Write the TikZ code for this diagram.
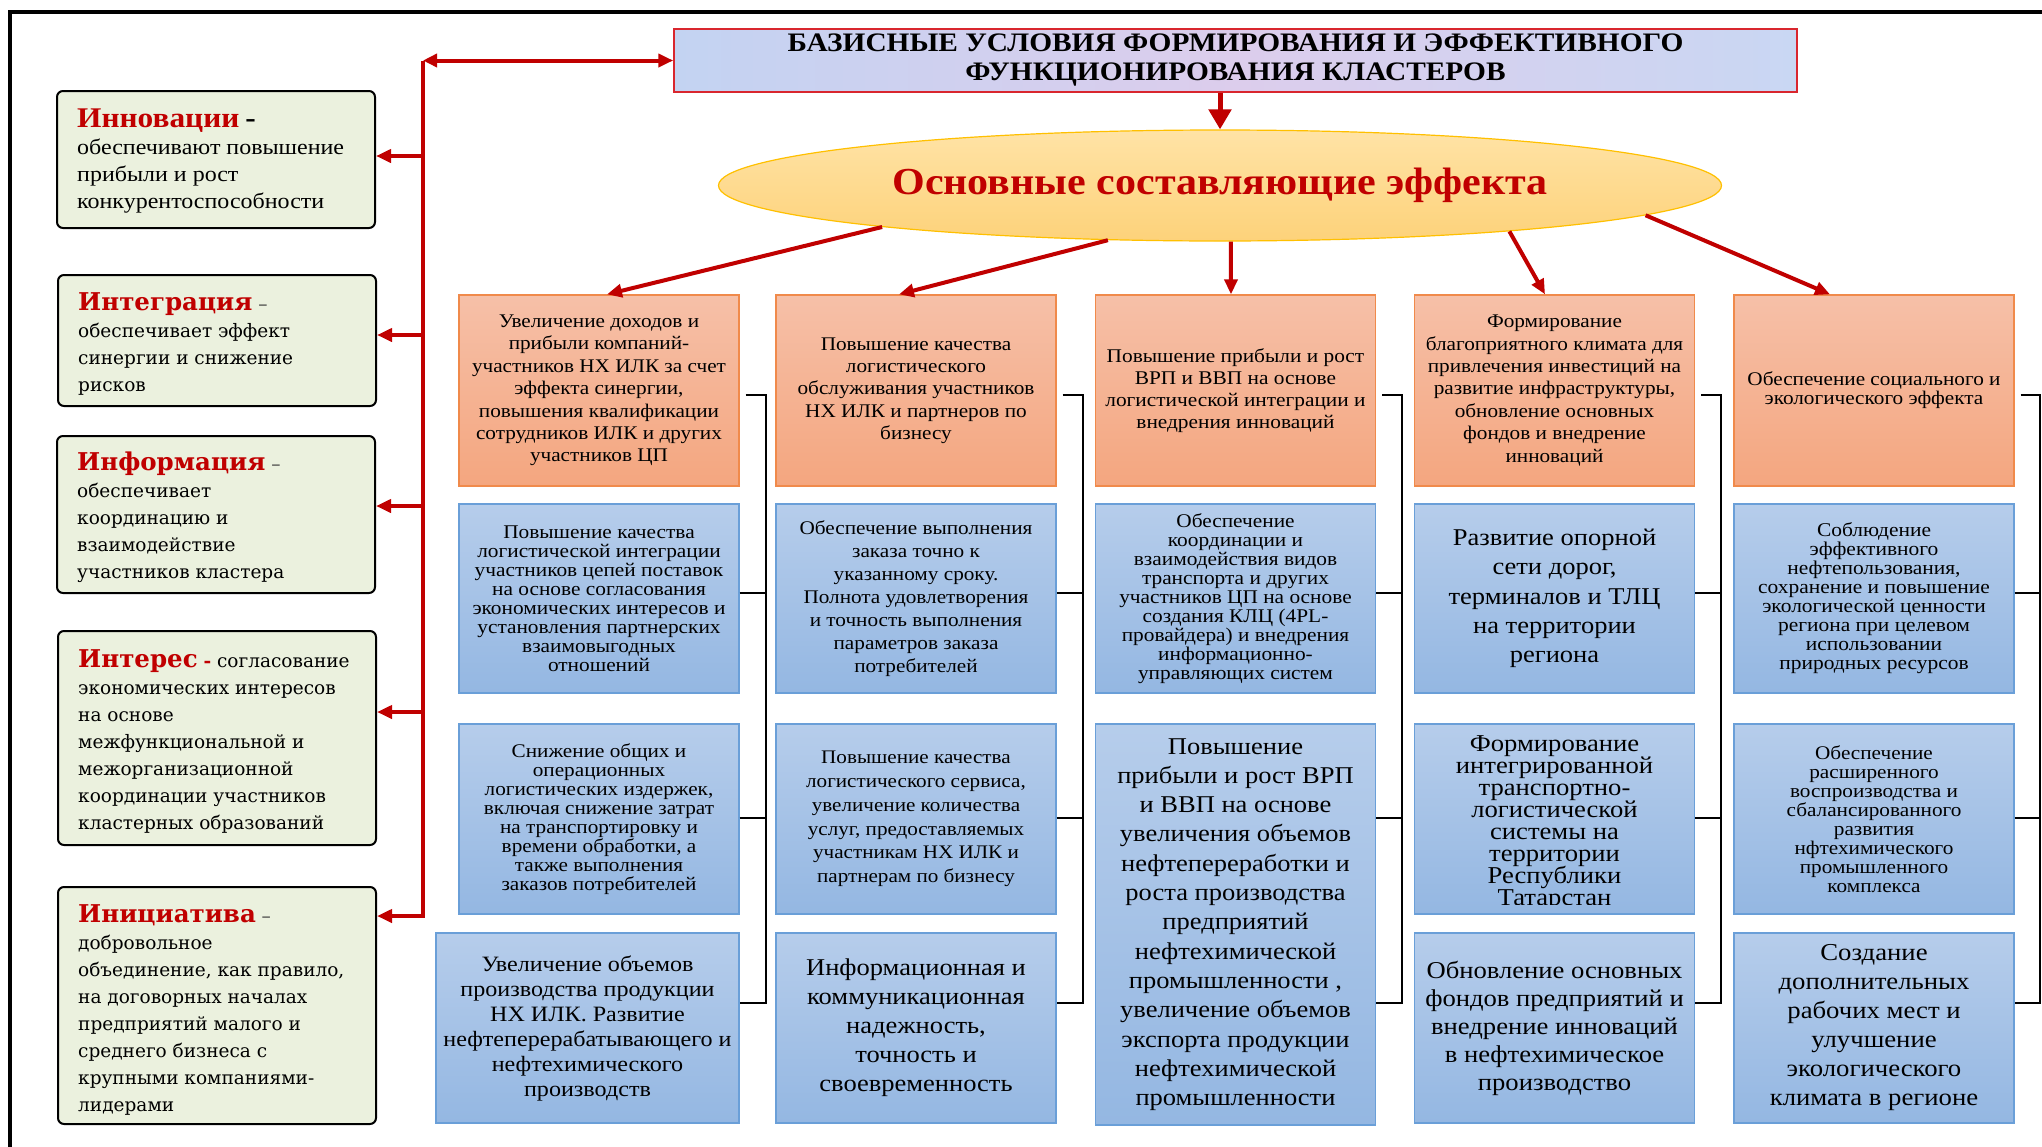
\documentclass[tikz,border=0pt]{standalone}
\usepackage{fontspec}
\setmainfont[FakeStretch=1.1]{Liberation Serif}
\newfontfamily\dvs{DejaVu Serif}
\usetikzlibrary{arrows.meta,calc,shapes.geometric}
\definecolor{rd}{HTML}{C00000}
\definecolor{tred}{HTML}{D9262E}
\definecolor{otop}{HTML}{F6C0A8}
\definecolor{obot}{HTML}{F4A67F}
\definecolor{obd}{HTML}{F08A4B}
\definecolor{btop}{HTML}{B6CDEB}
\definecolor{bbot}{HTML}{94B7E2}
\definecolor{bbd}{HTML}{6A9FD8}
\definecolor{gfill}{HTML}{EBF1DE}
\definecolor{etop}{HTML}{FFE3A6}
\definecolor{ebot}{HTML}{FDD27A}
\definecolor{ebd}{HTML}{FFC000}
\definecolor{dashc}{HTML}{404040}
\definecolor{tl}{HTML}{C3D3F2}
\definecolor{tm}{HTML}{DCCDEC}
\definecolor{tr}{HTML}{C9D7F3}
\newcommand{\fz}[2]{\fontsize{#1}{#2}\selectfont\lineskiplimit=-100pt\relax}
\tikzset{
  redarr/.style={draw=rd, line width=4pt, -{Triangle[length=15pt,width=13pt]}},
  redline/.style={draw=rd, line width=4pt},
  bk/.style={draw=black, line width=2pt},
  obox/.style={rectangle, draw=obd, line width=1.3pt, top color=otop, bottom color=obot,
    minimum width=280pt, minimum height=191pt, inner sep=2pt, align=center, text=black},
  bbox/.style={rectangle, draw=bbd, line width=1.3pt, top color=btop, bottom color=bbot,
    minimum width=280pt, minimum height=190pt, inner sep=2pt, align=center, text=black},
  lbox/.style={rectangle, rounded corners=6pt, draw=black, line width=2pt, fill=gfill,
    minimum width=318pt},
  ltxt/.style={anchor=north west, align=left, inner sep=0pt, text=black},
}
\begin{document}
\begin{tikzpicture}[x=1pt,y=-1pt]
\useasboundingbox (0,0) rectangle (2042,1146);
\fill[white] (0,0) rectangle (2042,1146);
% outer frame
\draw[line width=4pt] (10,1150) -- (10,11.5) -- (2050,11.5);

% title
\node[draw=tred, line width=1.5pt, left color=tl, right color=tr, middle color=tm,
  minimum width=1123pt, minimum height=63pt, inner sep=0pt, align=center,
  font=\bfseries\fz{26.7}{29}] (title) at (1235.5,60.5)
  {БАЗИСНЫЕ УСЛОВИЯ ФОРМИРОВАНИЯ И ЭФФЕКТИВНОГО\\ФУНКЦИОНИРОВАНИЯ КЛАСТЕРОВ};

% ellipse
\node[ellipse, draw=ebd, line width=1.2pt, top color=etop, bottom color=ebot,
  minimum width=1003pt, minimum height=111pt, inner sep=0pt, text=rd,
  font=\bfseries\fz{38.2}{40}] (ell) at (1220,185.5) {Основные составляющие эффекта};

\draw[draw=rd, line width=5pt, -{Triangle[length=20pt,width=22pt]}] (ell.north |- title.south) -- (ell.north);

% left boxes
\node[lbox, minimum height=137pt] (L1) at (216,159.5) {};
\node[lbox, minimum height=131pt] (L2) at (217,340.5) {};
\node[lbox, minimum height=157pt] (L3) at (216,514.5) {};
\node[lbox, minimum height=214pt] (L4) at (217,738) {};
\node[lbox, minimum height=237pt] (L5) at (217,1005.5) {};

\node[ltxt, font=\fz{21.8}{27}] (L1t) at (77,109)
  {{\fz{28.5}{27}\bfseries\color{rd}Инновации} {\fz{28.5}{27}\bfseries -}\\обеспечивают повышение\\прибыли и рост\\конкурентоспособности};
\node[ltxt, font=\dvs\fz{18.5}{27}] (L2t) at (78,292)
  {{\fz{24.5}{27}\bfseries\color{rd}Интеграция} {\color{dashc}–}\\обеспечивает эффект\\синергии и снижение\\рисков};
\node[ltxt, font=\dvs\fz{18.5}{27}] (L3t) at (77,452)
  {{\fz{24.5}{27}\bfseries\color{rd}Информация} {\color{dashc}–}\\обеспечивает\\координацию и\\взаимодействие\\участников кластера};
\node[ltxt, font=\dvs\fz{18.5}{27}] (L4t) at (78,649)
  {{\fz{24.5}{27}\bfseries\color{rd}Интерес} {\bfseries\color{rd}-} согласование\\экономических интересов\\на основе\\межфункциональной и\\межорганизационной\\координации участников\\кластерных образований};
\node[ltxt, font=\dvs\fz{18.5}{27}] (L5t) at (78,904)
  {{\fz{24.5}{27}\bfseries\color{rd}Инициатива} {\color{dashc}–}\\добровольное\\объединение, как правило,\\на договорных началах\\предприятий малого и\\среднего бизнеса с\\крупными компаниями-\\лидерами};

% red bracket on the left
\coordinate (lc) at (423,60.5);
\coordinate (lb) at (423,918);
\draw[redline] (lc) -- (lb);
\draw[draw=rd, line width=4pt, {Triangle[length=14pt,width=13pt]}-{Triangle[length=15pt,width=13pt]}] (lc) -- (title.west);
\coordinate (a1) at (423,156);
\coordinate (a2) at (423,335);
\coordinate (a3) at (423,506);
\coordinate (a4) at (423,712);
\coordinate (a5) at (423,916);
\draw[redarr] (a1) -- (a1 -| L1.east);
\draw[redarr] (a2) -- (a2 -| L2.east);
\draw[redarr] (a3) -- (a3 -| L3.east);
\draw[redarr] (a4) -- (a4 -| L4.east);
\draw[redarr] (a5) -- (a5 -| L5.east);

% row 1 (orange)
\node[obox, font=\fz{19.3}{22.4}] (o1) at (599,390.5) {Увеличение доходов и\\прибыли компаний-\\участников НХ ИЛК за счет\\эффекта синергии,\\повышения квалификации\\сотрудников ИЛК и других\\участников ЦП};
\node[obox, font=\fz{19.3}{22.3}] (o2) at (916,390.5) {Повышение качества\\логистического\\обслуживания участников\\НХ ИЛК и партнеров по\\бизнесу};
\node[obox, font=\fz{19.4}{22}] (o3) at (1235.5,390.5) {Повышение прибыли и рост\\ВРП и ВВП на основе\\логистической интеграции и\\внедрения инноваций};
\node[obox, font=\fz{19.3}{22.4}] (o4) at (1554.5,390.5) {Формирование\\благоприятного климата для\\привлечения инвестиций на\\развитие инфраструктуры,\\обновление основных\\фондов и внедрение\\инноваций};
\node[obox, font=\fz{19.3}{19}] (o5) at (1874,390.5) {Обеспечение социального и\\экологического эффекта};

% row 2 (blue)
\node[bbox, minimum height=189pt, font=\fz{19.4}{19}] (b1) at (599,598.5) {Повышение качества\\логистической интеграции\\участников цепей поставок\\на основе согласования\\экономических интересов и\\установления партнерских\\взаимовыгодных\\отношений};
\node[bbox, minimum height=189pt, font=\fz{19.3}{23}] (b2) at (916,598.5) {Обеспечение выполнения\\заказа точно к\\указанному сроку.\\Полнота удовлетворения\\и точность выполнения\\параметров заказа\\потребителей};
\node[bbox, minimum height=189pt, font=\fz{19.4}{19}] (b3) at (1235.5,598.5) {Обеспечение\\координации и\\взаимодействия видов\\транспорта и других\\участников ЦП на основе\\создания КЛЦ (4PL-\\провайдера) и внедрения\\информационно-\\управляющих систем};
\node[bbox, minimum height=189pt, font=\fz{24.1}{29.4}] (b4) at (1554.5,598.5) {Развитие опорной\\сети дорог,\\терминалов и ТЛЦ\\на территории\\региона};
\node[bbox, minimum height=189pt, font=\fz{19.5}{19}] (b5) at (1874,598.5) {Соблюдение\\эффективного\\нефтепользования,\\сохранение и повышение\\экологической ценности\\региона при целевом\\использовании\\природных ресурсов};

% row 3
\node[bbox, font=\fz{19.3}{19}] (c1) at (599,819) {Снижение общих и\\операционных\\логистических издержек,\\включая снижение затрат\\на транспортировку и\\времени обработки, а\\также выполнения\\заказов потребителей};
\node[bbox, font=\fz{19.2}{23.7}] (c2) at (916,819) {Повышение качества\\логистического сервиса,\\увеличение количества\\услуг, предоставляемых\\участникам НХ ИЛК и\\партнерам по бизнесу};
\node[bbox, minimum height=401pt, font=\fz{24.1}{29.3}] (t3) at (1235.5,924.5) {Повышение\\прибыли и рост ВРП\\и ВВП на основе\\увеличения объемов\\нефтепереработки и\\роста производства\\предприятий\\нефтехимической\\промышленности ,\\увеличение объемов\\экспорта продукции\\нефтехимической\\промышленности};
\node[bbox] (c4) at (1554.5,819) {};
\begin{scope}
\clip (c4.north west) rectangle ($(c4.south east)+(0,-10)$);
\node[anchor=north, align=center, inner sep=0pt, font=\fz{24.2}{22}] (c4t) at ($(c4.north)+(0,12)$) {Формирование\\интегрированной\\транспортно-\\логистической\\системы на\\территории\\Республики\\Татарстан};
\end{scope}
\node[bbox, font=\fz{19.3}{19}] (c5) at (1874,819) {Обеспечение\\расширенного\\воспроизводства и\\сбалансированного\\развития\\нфтехимического\\промышленного\\комплекса};

% row 4
\node[bbox, minimum width=303pt, font=\fz{21.9}{25}] (d1) at (587.5,1028) {Увеличение объемов\\производства продукции\\НХ ИЛК. Развитие\\нефтеперерабатывающего и\\нефтехимического\\производств};
\node[bbox, font=\fz{24.1}{29}] (d2) at (916,1028) {Информационная и\\коммуникационная\\надежность,\\точность и\\своевременность};
\node[bbox, font=\fz{24.2}{28}] (d4) at (1554.5,1028) {Обновление основных\\фондов предприятий и\\внедрение инноваций\\в нефтехимическое\\производство};
\node[bbox, font=\fz{24.3}{29}] (d5) at (1874,1028) {Создание\\дополнительных\\рабочих мест и\\улучшение\\экологического\\климата в регионе};

% arrows from ellipse to the top row
\draw[redarr] (ell.187) -- ([xshift=8pt]o1.north);
\draw[redarr] (ell.206) -- ([xshift=-17pt]o2.north);
\draw[redarr] (ell.281) -- ([xshift=-4.5pt]o3.north);
\draw[redarr] (ell.351) -- ([xshift=-9.5pt]o4.north);
\draw[redarr] (ell.356) -- ([xshift=-44pt]o5.north);

% black brackets
\coordinate (y1) at (0,395);
\coordinate (y2) at (0,593);
\coordinate (y3) at (0,818);
\coordinate (y4) at (0,1003);
\coordinate (v1) at (766,0);
\coordinate (v2) at (1083,0);
\coordinate (v3) at (1402,0);
\coordinate (v4) at (1721,0);
\coordinate (v5) at (2040,0);
\draw[bk] ($(o1.east |- y1)+(6,0)$) -- (v1 |- y1) -- (v1 |- y4) -- (d1.east |- y4);
\draw[bk] (b1.east |- y2) -- (v1 |- y2);
\draw[bk] (c1.east |- y3) -- (v1 |- y3);
\draw[bk] ($(o2.east |- y1)+(6,0)$) -- (v2 |- y1) -- (v2 |- y4) -- (d2.east |- y4);
\draw[bk] (b2.east |- y2) -- (v2 |- y2);
\draw[bk] (c2.east |- y3) -- (v2 |- y3);
\draw[bk] ($(o3.east |- y1)+(6,0)$) -- (v3 |- y1) -- (v3 |- y4) -- (t3.east |- y4);
\draw[bk] (b3.east |- y2) -- (v3 |- y2);
\draw[bk] (t3.east |- y3) -- (v3 |- y3);
\draw[bk] ($(o4.east |- y1)+(6,0)$) -- (v4 |- y1) -- (v4 |- y4) -- (d4.east |- y4);
\draw[bk] (b4.east |- y2) -- (v4 |- y2);
\draw[bk] (c4.east |- y3) -- (v4 |- y3);
\draw[bk] ($(o5.east |- y1)+(6,0)$) -- (v5 |- y1) -- (v5 |- y4) -- (d5.east |- y4);
\draw[bk] (b5.east |- y2) -- (v5 |- y2);
\draw[bk] (c5.east |- y3) -- (v5 |- y3);
\end{tikzpicture}
\end{document}
